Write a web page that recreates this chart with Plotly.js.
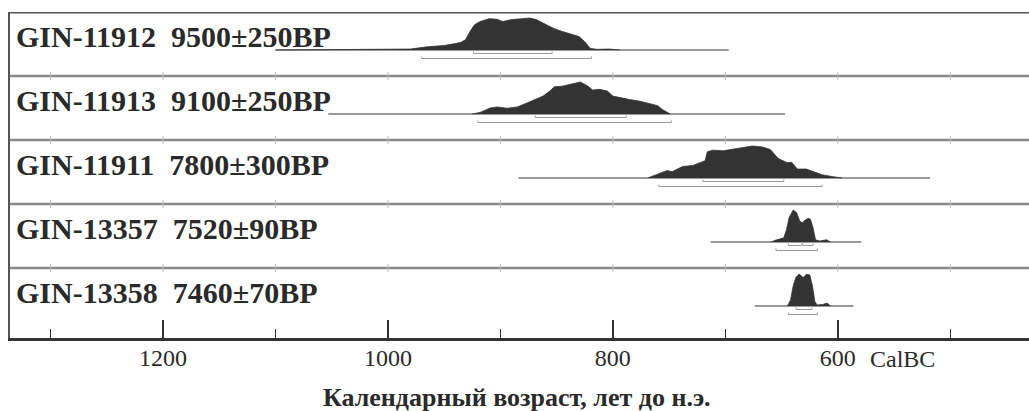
<!DOCTYPE html>
<html>
<head>
<meta charset="utf-8">
<script src="https://cdn.plot.ly/plotly-3.0.1.min.js"></script>
<style>html,body{margin:0;padding:0;background:#fff;}#chart{width:1029px;height:411px;}</style>
</head>
<body>
<div id="chart"></div>
<script>
// ---- data (calendar years BC, relative probability) ----
const labels = [
  "GIN-11912  9500±250BP",
  "GIN-11913  9100±250BP",
  "GIN-11911  7800±300BP",
  "GIN-13357  7520±90BP",
  "GIN-13358  7460±70BP"
];

const years11912 = [1100, 1050, 1000, 980, 965, 950, 940, 935, 931, 927, 923, 918, 910, 903, 898, 890, 880, 874, 868, 862, 853, 845, 836, 830, 825, 820, 814, 803, 794];
const prob11912  = [0, 0.01, 0.02, 0.03, 0.10, 0.14, 0.20, 0.24, 0.32, 0.58, 0.79, 0.89, 0.98, 0.96, 0.89, 0.95, 0.98, 1.00, 0.95, 0.84, 0.68, 0.58, 0.47, 0.42, 0.26, 0.05, 0.02, 0.03, 0];

const years11913 = [925, 918, 909, 903, 894, 885, 876, 868, 862, 856, 852, 845, 838, 829, 823, 818, 812, 805, 800, 794, 785, 776, 767, 760, 756, 749];
const prob11913  = [0, 0.05, 0.19, 0.22, 0.18, 0.22, 0.35, 0.48, 0.56, 0.72, 0.85, 0.87, 0.93, 1.00, 0.89, 0.75, 0.77, 0.72, 0.56, 0.51, 0.45, 0.40, 0.33, 0.26, 0.14, 0];

const years11911 = [769, 761, 752, 747, 738, 729, 723, 718, 716, 711, 702, 693, 684, 676, 667, 660, 653, 645, 641, 636, 628, 622, 614, 604, 596];
const prob11911  = [0, 0.10, 0.23, 0.20, 0.36, 0.39, 0.48, 0.54, 0.82, 0.87, 0.85, 0.90, 0.95, 1.00, 0.97, 0.89, 0.61, 0.48, 0.49, 0.28, 0.28, 0.20, 0.10, 0.04, 0];

const years13357 = [659, 656, 652, 648, 645.6, 643.3, 639.7, 636.7, 633.8, 631.4, 629.3, 626.4, 624.3, 622, 619.8, 616, 610, 606.5];
const prob13357  = [0, 0.05, 0.09, 0.13, 0.39, 0.76, 1.00, 0.92, 0.65, 0.60, 0.68, 0.74, 0.71, 0.44, 0.07, 0.03, 0.07, 0];

const years13358 = [644.7, 642, 639.7, 637.3, 634.4, 630.8, 627.8, 624.9, 622.5, 620.4, 618.4, 613.1, 609.5, 606.5];
const prob13358  = [0, 0.19, 0.62, 0.89, 1.00, 0.89, 0.99, 0.97, 0.62, 0.14, 0.03, 0.05, 0.09, 0];

const densYears = [years11912, years11913, years11911, years13357, years13358];
const densProb  = [prob11912, prob11913, prob11911, prob13357, prob13358];

// extent of each calibrated distribution (baseline)
const spans = [[1100, 697], [1053, 647], [884, 518], [713, 579], [674, 586]];
// 68.2% and 95.4% ranges
const range68 = [[[924, 854]], [[869, 788]], [[720, 648]], [[644, 632], [631, 622]], [[637, 623]]];
const range95 = [[[970, 819]], [[920, 748]], [[759, 614]], [[655, 618]], [[644, 618]]];

const majorTicks = [1200, 1000, 800, 600];
const tickText = ["1200", "1000", "800", "600"];
const axisTitle = "Календарный возраст, лет до н.э.";
const unitLabel = "CalBC";

// ---- layout helpers ----
const ROW = 64, BASE0 = 32, TOP = 326, HMAX = 32;
const nRows = labels.length;
const baseOf = i => BASE0 + ROW * (nRows - 1 - i);

const traces = [];
const shapes = [];
const annotations = [];

for (let i = 0; i < nRows; i++) {
  const b = baseOf(i);
  // baseline
  traces.push({x: spans[i], y: [b, b], mode: 'lines', line: {color: '#9a9a9a', width: 2}, hoverinfo: 'skip'});
  // density
  const xs = densYears[i].slice();
  const ys = densProb[i].map(p => b + p * HMAX);
  xs.unshift(densYears[i][0]); ys.unshift(b);
  xs.push(densYears[i][densYears[i].length - 1]); ys.push(b);
  traces.push({x: xs, y: ys, mode: 'lines', fill: 'toself', fillcolor: '#333333',
               line: {color: '#333333', width: 0.8}, hoverinfo: 'skip'});
  // ranges
  const addBr = (pairs, off) => pairs.forEach(r => {
    traces.push({x: [r[0], r[0], r[1], r[1]], y: [b - off + 2, b - off, b - off, b - off + 2],
                 mode: 'lines', line: {color: '#9a9a9a', width: 1}, hoverinfo: 'skip'});
  });
  addBr(range68[i], 3.5);
  addBr(range95[i], 8.5);
  // label
  annotations.push({xref: 'paper', yref: 'y', x: 0, y: b + 14, xanchor: 'left', yanchor: 'middle',
    xshift: 4, showarrow: false, text: labels[i],
    font: {family: 'Liberation Serif', size: 30, weight: 'bold', color: '#2a2a2a'}});
}

// row dividers with small ticks
for (let k = 1; k < nRows; k++) {
  const yd = BASE0 + ROW * k - 26;
  shapes.push({type: 'line', xref: 'paper', yref: 'y', x0: 0, x1: 1, y0: yd, y1: yd,
               line: {color: '#8a8a8a', width: 2.5}});
  for (let t = 1300; t >= 500; t -= 100) {
    shapes.push({type: 'line', xref: 'x', yref: 'y', x0: t, x1: t, y0: yd - 4, y1: yd + 4,
                 line: {color: '#bbbbbb', width: 1}});
  }
}
// top border
shapes.push({type: 'line', xref: 'paper', yref: 'y', x0: 0, x1: 1, y0: TOP, y1: TOP,
             line: {color: '#555555', width: 3}});

annotations.push({xref: 'paper', yref: 'paper', x: 0.498, y: -0.181, xanchor: 'center', yanchor: 'middle',
  showarrow: false, text: axisTitle, font: {family: 'Liberation Serif', size: 26, weight: 'bold', color: '#2a2a2a'}});
annotations.push({xref: 'paper', yref: 'paper', x: 0.876, y: -0.063, xanchor: 'center', yanchor: 'middle',
  showarrow: false, text: unitLabel, font: {family: 'Liberation Serif', size: 24, color: '#2a2a2a'}});

const layout = {
  width: 1029, height: 411,
  margin: {l: 10, r: 0, t: 12, b: 73, pad: 0},
  paper_bgcolor: '#ffffff', plot_bgcolor: '#ffffff',
  showlegend: false,
  xaxis: {
    range: [1336, 430], showgrid: false, zeroline: false,
    showline: true, linecolor: '#333333', linewidth: 2.5,
    tickmode: 'array', tickvals: majorTicks, ticktext: tickText,
    ticks: 'inside', ticklen: 18, tickwidth: 1.5, tickcolor: '#333333',
    ticklabelstandoff: -3,
    minor: {tickmode: 'linear', tick0: 1300, dtick: 200, ticks: 'inside', ticklen: 9, tickwidth: 1.5, tickcolor: '#333333', showgrid: false},
    tickfont: {family: 'Liberation Serif', size: 24, color: '#2a2a2a'},
    fixedrange: true
  },
  yaxis: {
    range: [0, TOP], showgrid: false, zeroline: false,
    showline: true, linecolor: '#555555', linewidth: 2.5,
    showticklabels: false, ticks: '', fixedrange: true
  },
  shapes: shapes,
  annotations: annotations
};

Plotly.newPlot('chart', traces, layout, {displayModeBar: false, staticPlot: true});
</script>
</body>
</html>
